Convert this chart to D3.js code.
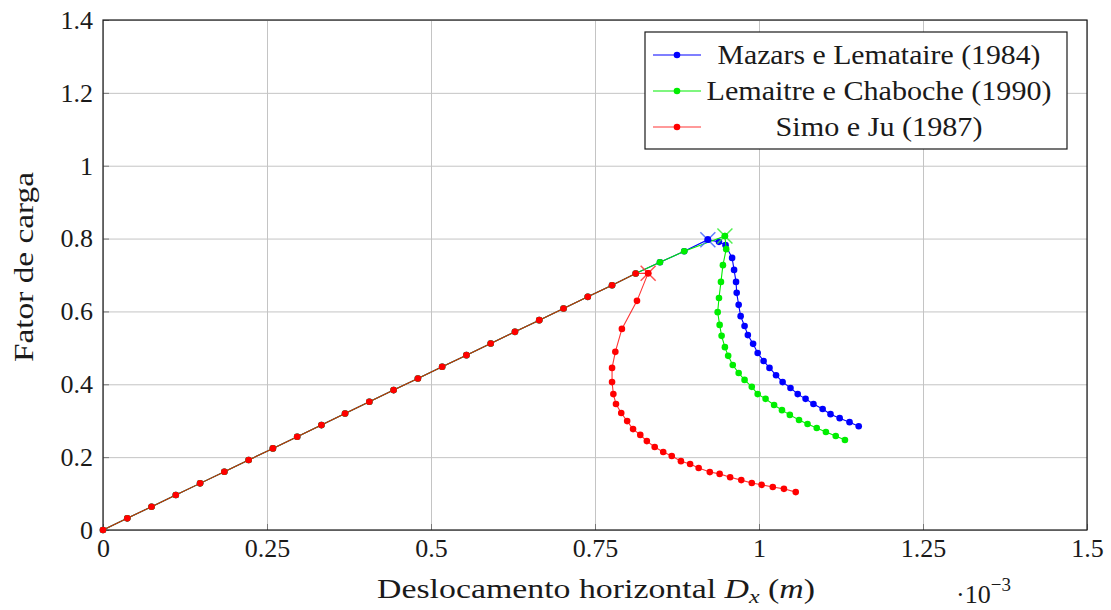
<!DOCTYPE html>
<html>
<head>
<meta charset="utf-8">
<script src="https://cdn.jsdelivr.net/npm/d3@7/dist/d3.min.js"></script>
<style>
  html, body { margin: 0; padding: 0; background: #fff; }
  svg { display: block; }
</style>
</head>
<body>
<svg id="chart" width="1111" height="610"></svg>
<script>
// ---------- data ----------
const xTickValues = [0, 0.25, 0.5, 0.75, 1, 1.25, 1.5];
const xTickLabels = ["0", "0.25", "0.5", "0.75", "1", "1.25", "1.5"];
const yTickValues = [0, 0.2, 0.4, 0.6, 0.8, 1, 1.2, 1.4];
const yTickLabels = ["0", "0.2", "0.4", "0.6", "0.8", "1", "1.2", "1.4"];

const seriesNames = ["Mazars e Lemataire (1984)", "Lemaitre e Chaboche (1990)", "Simo e Ju (1987)"];

// shared elastic branch (x in 1e-3 m)
const linearX = [0, 0.037, 0.074, 0.111, 0.148, 0.185, 0.222, 0.259, 0.296, 0.333, 0.369, 0.406,
                 0.443, 0.480, 0.517, 0.554, 0.591, 0.628, 0.665, 0.702, 0.739, 0.776, 0.812];
const linearY = [0, 0.032, 0.064, 0.096, 0.128, 0.160, 0.192, 0.224, 0.256, 0.288, 0.320, 0.352,
                 0.384, 0.416, 0.448, 0.480, 0.512, 0.544, 0.576, 0.608, 0.640, 0.672, 0.704];

// Mazars: continuation after the elastic branch (peak is the 3rd point)
const mazarsX = [0.849, 0.886, 0.922, 0.939, 0.949, 0.959, 0.962, 0.965, 0.966, 0.969, 0.972, 0.978,
                 0.983, 0.991, 0.998, 1.007, 1.016, 1.026, 1.036, 1.048, 1.059, 1.071, 1.083, 1.097,
                 1.109, 1.123, 1.138, 1.152];
const mazarsY = [0.735, 0.765, 0.797, 0.791, 0.782, 0.747, 0.714, 0.681, 0.651, 0.618, 0.587, 0.560,
                 0.535, 0.511, 0.486, 0.464, 0.445, 0.425, 0.406, 0.390, 0.373, 0.360, 0.346, 0.332,
                 0.318, 0.307, 0.296, 0.285];
const mazarsPeak = 2;

// Lemaitre & Chaboche (peak is the 3rd point)
const lemaitreX = [0.849, 0.886, 0.948, 0.950, 0.945, 0.942, 0.939, 0.937, 0.940, 0.943, 0.948, 0.953,
                   0.960, 0.969, 0.978, 0.989, 0.998, 1.010, 1.023, 1.035, 1.047, 1.061, 1.074, 1.088,
                   1.102, 1.117, 1.131];
const lemaitreY = [0.735, 0.765, 0.807, 0.771, 0.727, 0.681, 0.637, 0.598, 0.563, 0.533, 0.502, 0.478,
                   0.453, 0.431, 0.412, 0.393, 0.373, 0.360, 0.343, 0.329, 0.316, 0.302, 0.291, 0.280,
                   0.269, 0.258, 0.247];
const lemaitrePeak = 2;

// Simo & Ju (peak is the 1st point)
const simoX = [0.831, 0.814, 0.791, 0.781, 0.776, 0.776, 0.778, 0.782, 0.790, 0.799, 0.808, 0.819,
               0.829, 0.841, 0.854, 0.867, 0.881, 0.895, 0.908, 0.925, 0.940, 0.956, 0.973, 0.989,
               1.004, 1.021, 1.038, 1.056];
const simoY = [0.705, 0.629, 0.552, 0.489, 0.445, 0.406, 0.373, 0.346, 0.321, 0.299, 0.277, 0.261,
               0.244, 0.228, 0.214, 0.203, 0.189, 0.181, 0.170, 0.159, 0.154, 0.145, 0.137, 0.129,
               0.124, 0.118, 0.113, 0.104];
const simoPeak = 0;

const seriesColors = ["#0000ff", "#00ee00", "#ff0000"];
const lineOpacity = [1, 1, 0.8];
const crossColors = ["#4466ff", "#33ee33", "#ff3333"];

// ---------- build ----------
const FONT = "'Liberation Serif', 'DejaVu Serif', serif";
function build(xs, ys) { return xs.map((x, i) => ({x, y: ys[i]})); }
const linear = build(linearX, linearY);
const series = [
  {name: seriesNames[0], pts: linear.concat(build(mazarsX, mazarsY)), peak: linear.length + mazarsPeak},
  {name: seriesNames[1], pts: linear.concat(build(lemaitreX, lemaitreY)), peak: linear.length + lemaitrePeak},
  {name: seriesNames[2], pts: linear.concat(build(simoX, simoY)), peak: linear.length + simoPeak}
];

const svg = d3.select("#chart");
const L = 103, R = 1087, T = 20, B = 530;
const x = d3.scaleLinear().domain([0, 1.5]).range([L, R]);
const y = d3.scaleLinear().domain([0, 1.4]).range([B, T]);

// grid
svg.append("g").attr("transform", `translate(0,${B})`)
  .call(d3.axisBottom(x).tickValues(xTickValues).tickSize(-(B - T)).tickFormat(""))
  .call(g => g.select(".domain").remove())
  .call(g => g.selectAll("line").attr("stroke", "#c4c4c4").attr("stroke-width", 1));
svg.append("g").attr("transform", `translate(${L},0)`)
  .call(d3.axisLeft(y).tickValues(yTickValues).tickSize(-(R - L)).tickFormat(""))
  .call(g => g.select(".domain").remove())
  .call(g => g.selectAll("line").attr("stroke", "#c4c4c4").attr("stroke-width", 1));

// axes with inward ticks
const xAxis = svg.append("g").attr("transform", `translate(0,${B})`)
  .call(d3.axisBottom(x).tickValues(xTickValues).tickSize(-6).tickPadding(9)
        .tickFormat((d, i) => xTickLabels[i]));
const yAxis = svg.append("g").attr("transform", `translate(${L},0)`)
  .call(d3.axisLeft(y).tickValues(yTickValues).tickSize(-6).tickPadding(10)
        .tickFormat((d, i) => yTickLabels[i]));
[xAxis, yAxis].forEach(a => {
  a.select(".domain").remove();
  a.attr("font-family", null).attr("font-size", null);
  a.selectAll("line").attr("stroke", "#777").attr("stroke-width", 1);
  a.selectAll("text").style("font-family", FONT).style("font-size", "26px").style("fill", "#1a1a1a");
});

// frame
svg.append("rect").attr("x", L).attr("y", T).attr("width", R - L).attr("height", B - T)
  .attr("fill", "none").attr("stroke", "#1a1a1a").attr("stroke-width", 1.2);

// series
const line = d3.line().x(d => x(d.x)).y(d => y(d.y));
series.forEach((s, i) => {
  const g = svg.append("g");
  g.append("path").datum(s.pts).attr("d", line).attr("fill", "none")
    .attr("stroke", seriesColors[i]).attr("stroke-width", 1.1).attr("stroke-opacity", lineOpacity[i]);
  g.selectAll("circle").data(s.pts).enter().append("circle")
    .attr("cx", d => x(d.x)).attr("cy", d => y(d.y)).attr("r", 3.3)
    .attr("fill", seriesColors[i]);
});
// peak crosses
series.forEach((s, i) => {
  const p = s.pts[s.peak];
  const cx = x(p.x), cy = y(p.y), h = 7.5;
  const g = svg.append("g").attr("stroke", crossColors[i]).attr("stroke-width", 1.5).attr("stroke-opacity", 0.85);
  g.append("line").attr("x1", cx - h).attr("y1", cy - h).attr("x2", cx + h).attr("y2", cy + h);
  g.append("line").attr("x1", cx - h).attr("y1", cy + h).attr("x2", cx + h).attr("y2", cy - h);
  svg.append("circle").attr("cx", cx).attr("cy", cy).attr("r", 3.3).attr("fill", seriesColors[i]);
});

// legend
const lg = svg.append("g");
lg.append("rect").attr("x", 645).attr("y", 32).attr("width", 422).attr("height", 117)
  .attr("fill", "#fff").attr("stroke", "#1a1a1a").attr("stroke-width", 1.2);
const rowY = [55, 91, 127];
const legendWidths = [323, 345, 207];
series.forEach((s, i) => {
  lg.append("line").attr("x1", 653).attr("x2", 701).attr("y1", rowY[i]).attr("y2", rowY[i])
    .attr("stroke", seriesColors[i]).attr("stroke-width", 1.1).attr("stroke-opacity", lineOpacity[i]);
  lg.append("circle").attr("cx", 677).attr("cy", rowY[i]).attr("r", 3.3).attr("fill", seriesColors[i]);
  lg.append("text").attr("x", 879).attr("y", rowY[i] + 9).attr("text-anchor", "middle")
    .style("font-family", FONT).style("font-size", "27px").style("fill", "#1a1a1a")
    .attr("textLength", legendWidths[i]).attr("lengthAdjust", "spacingAndGlyphs")
    .text(s.name);
});

// axis labels
svg.append("text").attr("transform", "translate(33,267) rotate(-90)").attr("text-anchor", "middle")
  .style("font-family", FONT).style("font-size", "27px").style("fill", "#1a1a1a")
  .attr("textLength", 190).attr("lengthAdjust", "spacingAndGlyphs")
  .text("Fator de carga");

const xl = svg.append("text").attr("x", 377).attr("y", 598)
  .style("font-family", FONT).style("font-size", "27px").style("fill", "#1a1a1a")
  .attr("textLength", 438).attr("lengthAdjust", "spacingAndGlyphs");
xl.append("tspan").text("Deslocamento horizontal ");
xl.append("tspan").style("font-style", "italic").text("D");
xl.append("tspan").style("font-style", "italic").style("font-size", "19px").attr("dy", 5).text("x");
xl.append("tspan").attr("dy", -5).text(" (");
xl.append("tspan").style("font-style", "italic").text("m");
xl.append("tspan").text(")");

const ex = svg.append("text").attr("x", 956).attr("y", 603)
  .style("font-family", FONT).style("font-size", "26px").style("fill", "#1a1a1a");
ex.append("tspan").text("·10");
ex.append("tspan").style("font-size", "19px").attr("dy", -12).text("−3");
</script>
</body>
</html>
